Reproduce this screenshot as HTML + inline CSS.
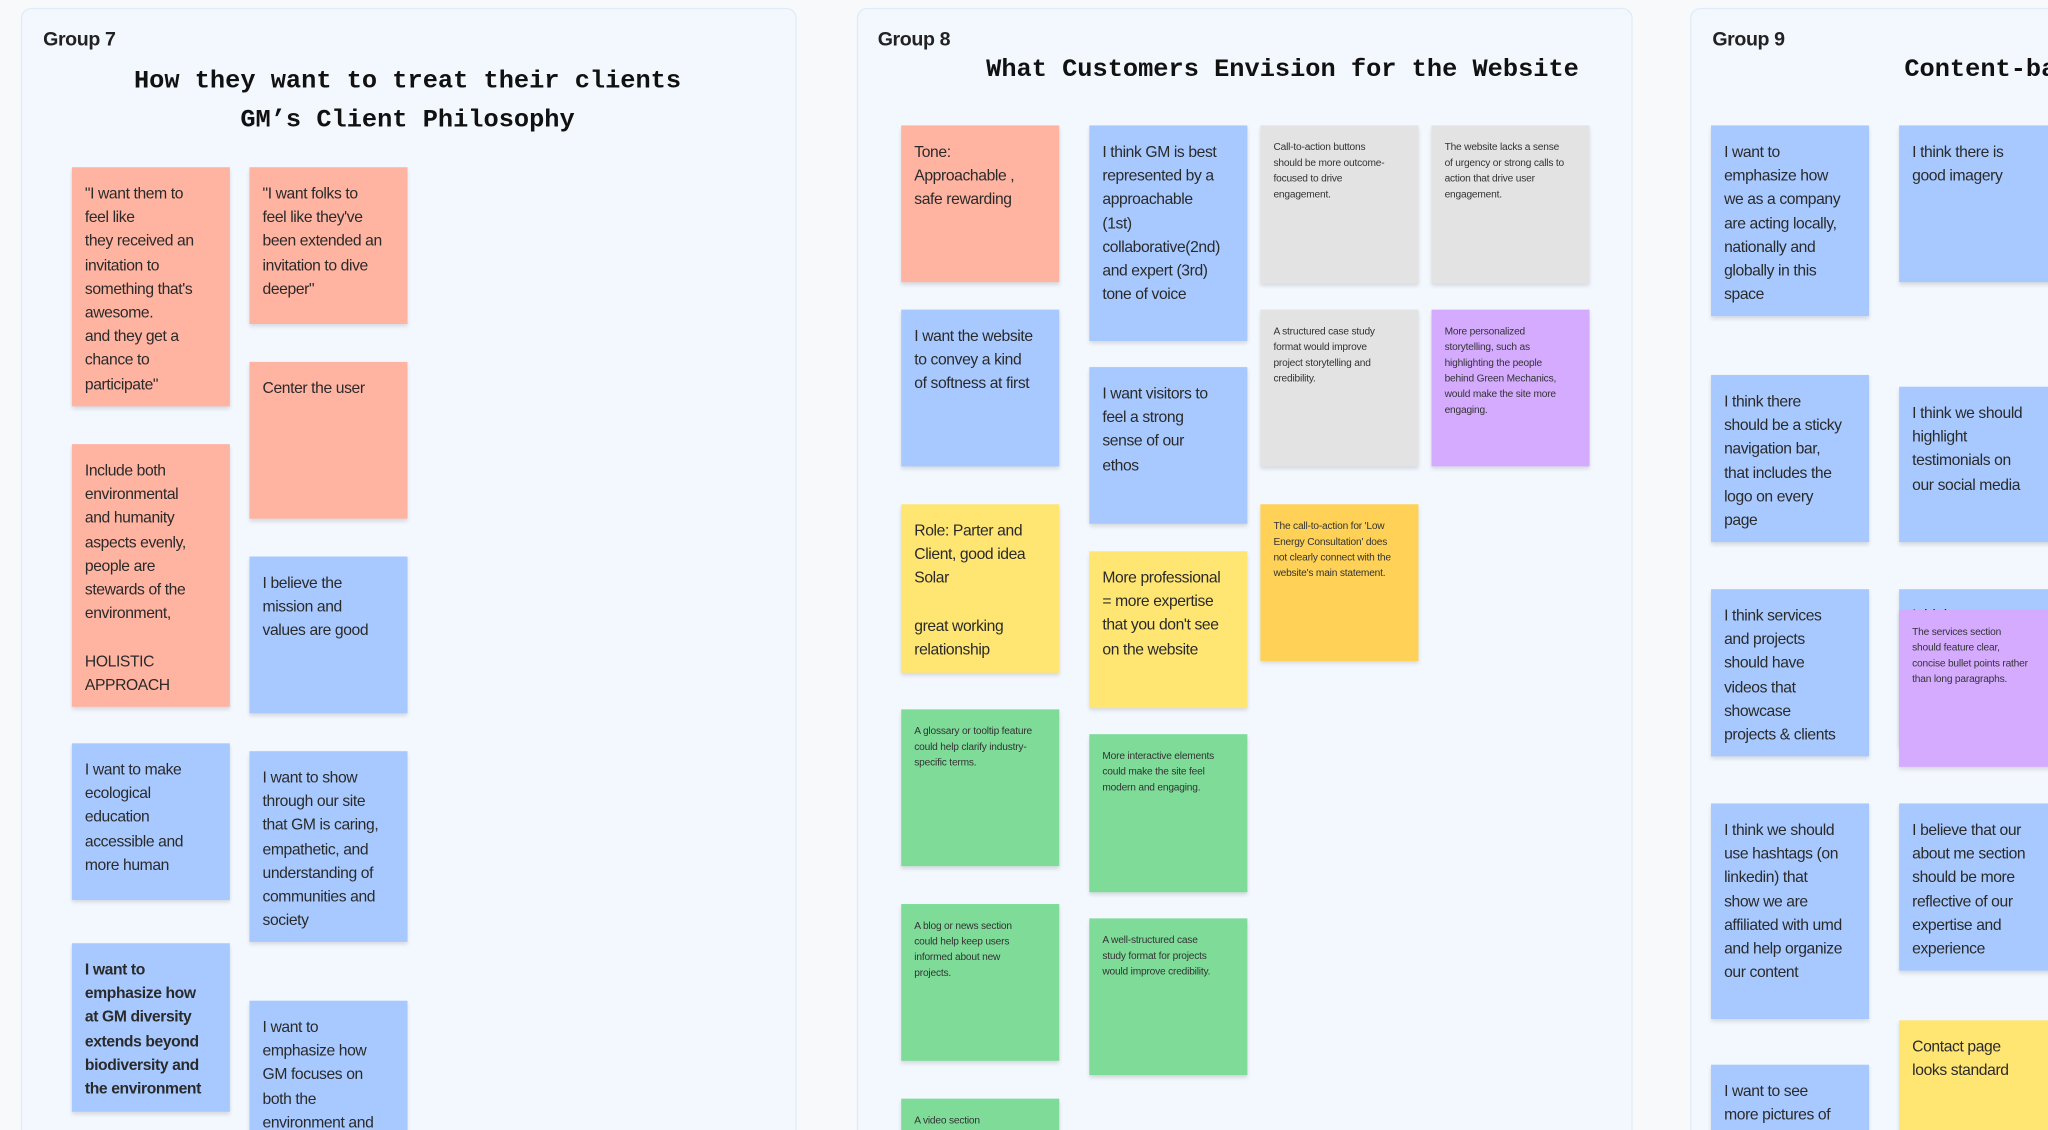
<!DOCTYPE html>
<html><head><meta charset="utf-8"><style>
html,body{margin:0;padding:0;background:#f8f9fb;width:2048px;height:1130px;overflow:hidden}
#w{position:absolute;left:0;top:0;width:1568px;height:865px;overflow:hidden;transform:scale(1.30612,1.3064);transform-origin:0 0;font-family:"Liberation Sans",sans-serif}
.p{position:absolute;top:6px;height:866px;background:#f3f8fe;border:1px solid #e1ebf7;border-radius:8px}
.g{position:absolute;font-size:15px;font-weight:bold;color:#222;letter-spacing:-0.3px}
.t{position:absolute;font-family:"Liberation Mono",monospace;font-weight:bold;font-size:19.4px;color:#111;text-align:center;line-height:30px;white-space:nowrap}
.c{position:absolute;width:93px;padding:11px 18px 0 10px;box-sizing:content-box;font-size:12px;line-height:18.2px;color:#2a2a2a;box-shadow:0 2px 3px rgba(0,0,0,0.12);overflow:hidden;letter-spacing:-0.3px}
.s{font-size:7.8px;line-height:12px;padding-top:11px;width:92px;padding-right:19px;color:#333;letter-spacing:-0.15px}
.r{background:#ffb3a1}.b{background:#a8c9ff}.y{background:#ffe673}.gr{background:#7edb98}.gy{background:#e3e3e3}.pu{background:#d5abff}.o{background:#ffd257}
</style></head><body><div id="w">
<div class="p" style="left:16px;width:592px"></div>
<div class="p" style="left:656px;width:592px"></div>
<div class="p" style="left:1294px;width:400px"></div>
<div class="g" style="left:33px;top:22px">Group 7</div>
<div class="g" style="left:672px;top:22px">Group 8</div>
<div class="g" style="left:1311px;top:22px">Group 9</div>
<div class="t" style="left:16px;width:592px;top:47px">How they want to treat their clients<br>GM’s Client Philosophy</div>
<div class="t" style="left:755px;top:38px;text-align:left">What Customers Envision for the Website</div>
<div class="t" style="left:1458px;top:38px;text-align:left">Content-based Feedback</div>

<!-- group 7 -->
<div class="c r" style="left:55px;top:128px;height:172px">"I want them to feel like<br>they received an invitation to something that's awesome.<br>and they get a chance to participate"</div>
<div class="c r" style="left:55px;top:340px;height:190px">Include both environmental and humanity aspects evenly, people are stewards of the environment,<br><br>HOLISTIC APPROACH</div>
<div class="c b" style="left:55px;top:569px;height:109px">I want to make ecological education accessible and more human</div>
<div class="c b" style="left:55px;top:722px;height:118px;font-weight:bold">I want to emphasize how at GM diversity extends beyond biodiversity and the environment</div>
<div class="c r" style="left:191px;top:128px;height:109px">"I want folks to feel like they've been extended an invitation to dive deeper"</div>
<div class="c r" style="left:191px;top:277px;height:109px">Center the user</div>
<div class="c b" style="left:191px;top:426px;height:109px">I believe the mission and values are good</div>
<div class="c b" style="left:191px;top:575px;height:135px">I want to show through our site that GM is caring, empathetic, and understanding of communities and society</div>
<div class="c b" style="left:191px;top:766px;height:120px">I want to emphasize how GM focuses on both the environment and</div>

<!-- group 8 -->
<div class="c r" style="left:690px;top:96px;height:109px">Tone:<br>Approachable , safe rewarding</div>
<div class="c b" style="left:690px;top:237px;height:109px">I want the website to convey a kind of softness at first</div>
<div class="c y" style="left:690px;top:386px;height:118px">Role: Parter and Client, good idea Solar<br><br>great working relationship</div>
<div class="c gr s" style="left:690px;top:543px;height:109px">A glossary or tooltip feature could help clarify industry-specific terms.</div>
<div class="c gr s" style="left:690px;top:692px;height:109px">A blog or news section could help keep users informed about new projects.</div>
<div class="c gr s" style="left:690px;top:841px;height:60px">A video section</div>
<div class="c b" style="left:834px;top:96px;height:154px">I think GM is best represented by a approachable (1st) collaborative(2nd) and expert (3rd) tone of voice</div>
<div class="c b" style="left:834px;top:281px;height:109px">I want visitors to feel a strong sense of our ethos</div>
<div class="c y" style="left:834px;top:422px;height:109px">More professional = more expertise that you don't see on the website</div>
<div class="c gr s" style="left:834px;top:562px;height:110px">More interactive elements could make the site feel modern and engaging.</div>
<div class="c gr s" style="left:834px;top:703px;height:109px">A well-structured case study format for projects would improve credibility.</div>
<div class="c gy s" style="left:965px;top:96px;height:110px">Call-to-action buttons should be more outcome-focused to drive engagement.</div>
<div class="c gy s" style="left:965px;top:237px;height:109px">A structured case study format would improve project storytelling and credibility.</div>
<div class="c o s" style="left:965px;top:386px;height:109px">The call-to-action for 'Low Energy Consultation' does not clearly connect with the website's main statement.</div>
<div class="c gy s" style="left:1096px;top:96px;height:110px">The website lacks a sense of urgency or strong calls to action that drive user engagement.</div>
<div class="c pu s" style="left:1096px;top:237px;height:109px">More personalized storytelling, such as highlighting the people behind Green Mechanics, would make the site more engaging.</div>

<!-- group 9 -->
<div class="c b" style="left:1310px;top:96px;height:135px">I want to emphasize how we as a company are acting locally, nationally and globally in this space</div>
<div class="c b" style="left:1310px;top:287px;height:117px">I think there should be a sticky navigation bar, that includes the logo on every page</div>
<div class="c b" style="left:1310px;top:451px;height:117px">I think services and projects should have videos that showcase projects &amp; clients</div>
<div class="c b" style="left:1310px;top:615px;height:154px">I think we should use hashtags (on linkedin) that show we are affiliated with umd and help organize our content</div>
<div class="c b" style="left:1310px;top:815px;height:50px">I want to see more pictures of</div>
<div class="c b" style="left:1454px;top:96px;height:109px">I think there is good imagery</div>
<div class="c b" style="left:1454px;top:296px;height:108px">I think we should highlight testimonials on our social media</div>
<div class="c b" style="left:1454px;top:451px;height:109px">I think</div>
<div class="c pu s" style="left:1454px;top:467px;height:109px">The services section should feature clear, concise bullet points rather than long paragraphs.</div>
<div class="c b" style="left:1454px;top:615px;height:117px">I believe that our about me section should be more reflective of our expertise and experience</div>
<div class="c y" style="left:1454px;top:781px;height:84px">Contact page looks standard</div>
</div></body></html>
